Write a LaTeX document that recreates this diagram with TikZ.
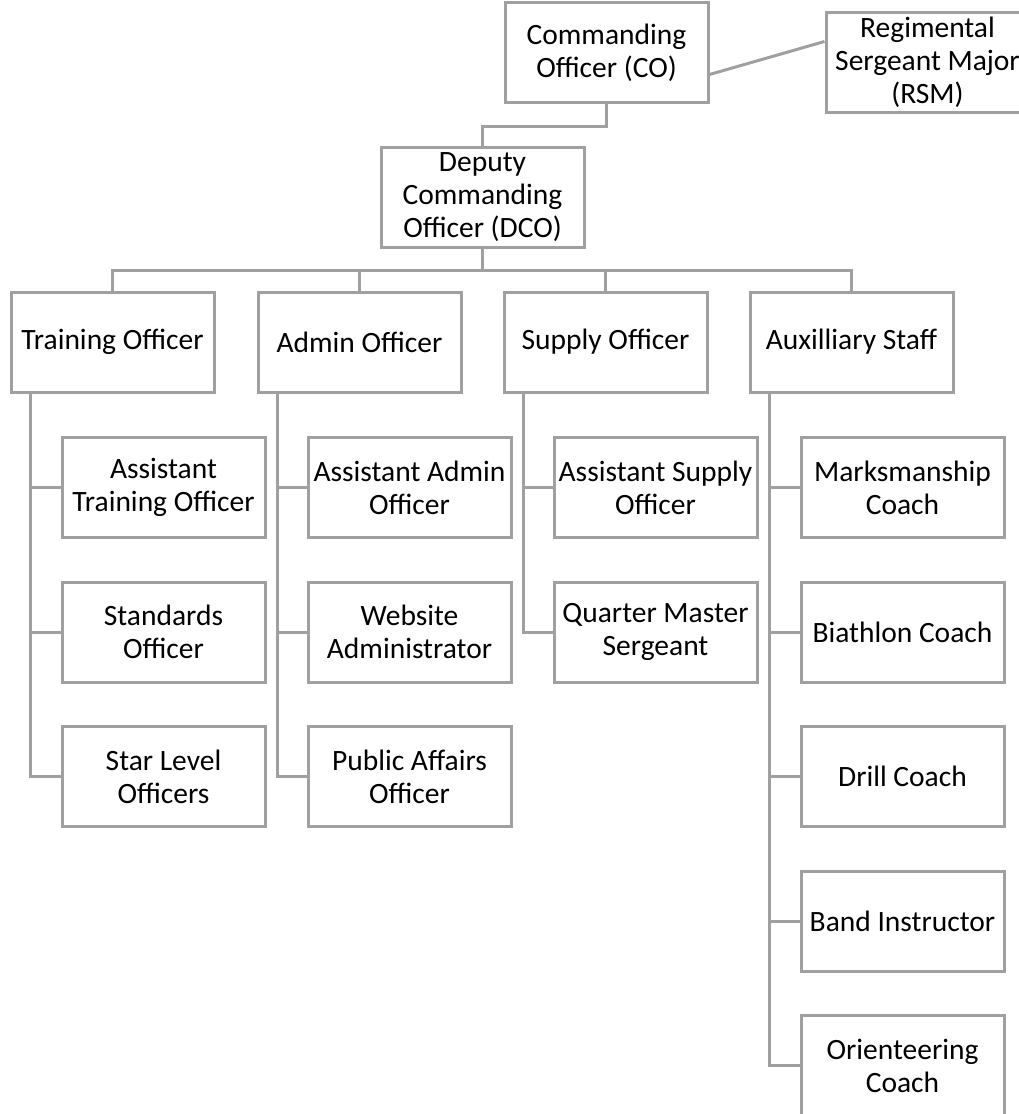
\documentclass[tikz,border=0pt]{standalone}
\usepackage{fontspec}
\setmainfont{Carlito}
\definecolor{lineg}{RGB}{160,160,160}
\begin{document}
\begin{tikzpicture}[x=1pt,y=-1pt,
  box/.style={draw=lineg,line width=3pt,minimum width=203pt,minimum height=100pt,
    align=center,inner sep=1pt,font=\fontsize{29.5}{33}\selectfont,fill=white},
  conn/.style={draw=lineg,line width=3pt}]
\clip (0,0) rectangle (1019,1114);
\fill[white] (0,0) rectangle (1019,1114);
% top
\node[box] (CO) at (606.5,52.5) {Commanding\\Officer (CO)};
\node[box] (RSM) at (927.5,62.5) {Regimental\\Sergeant Major\\(RSM)};
\node[box] (DCO) at (482.5,197.5) {Deputy\\Commanding\\Officer (DCO)};
% level 2
\node[box] (T) at (112.5,342) {Training Officer};
\node[box] (A) at (359.5,342) {Admin Officer};
\node[box] (S) at (605.5,342) {Supply Officer};
\node[box] (X) at (851.5,342) {Auxilliary Staff};
% children
\node[box] (T1) at (163.5,487.5) {Assistant\\Training Officer};
\node[box] (T2) at (163.5,632) {Standards\\Officer};
\node[box] (T3) at (163.5,776.5) {Star Level\\Officers};
\node[box] (A1) at (409.5,487.5) {Assistant Admin\\Officer};
\node[box] (A2) at (409.5,632) {Website\\Administrator};
\node[box] (A3) at (409.5,776.5) {Public Affairs\\Officer};
\node[box] (S1) at (655.5,487.5) {Assistant Supply\\Officer};
\node[box] (S2) at (655.5,632) {Quarter Master\\Sergeant};
\node[box] (X1) at (902.5,487.5) {Marksmanship\\Coach};
\node[box] (X2) at (902.5,632) {Biathlon Coach};
\node[box] (X3) at (902.5,776.5) {Drill Coach};
\node[box] (X4) at (902.5,921) {Band Instructor};
\node[box] (X5) at (902.5,1065.5) {Orienteering\\Coach};
% connectors
\draw[conn] ([yshift=-22pt]CO.east) -- ([yshift=21pt]RSM.west);
\draw[conn] (CO.south) -- ++(0,22) -| (DCO.north);
\coordinate (bar) at (482.5,270);
\draw[conn] (DCO.south) -- (bar);
\draw[conn] (bar) -| (T.north);
\draw[conn] (bar) -| (A.north);
\draw[conn] (bar) -| (S.north);
\draw[conn] (bar) -| (X.north);
\foreach \p/\c in {T/T1,T/T2,T/T3,A/A1,A/A2,A/A3,S/S1,S/S2,X/X1,X/X2,X/X3,X/X4,X/X5}{
  \draw[conn] ([xshift=21pt]\p.south west) |- (\c.west);
}
\end{tikzpicture}
\end{document}
